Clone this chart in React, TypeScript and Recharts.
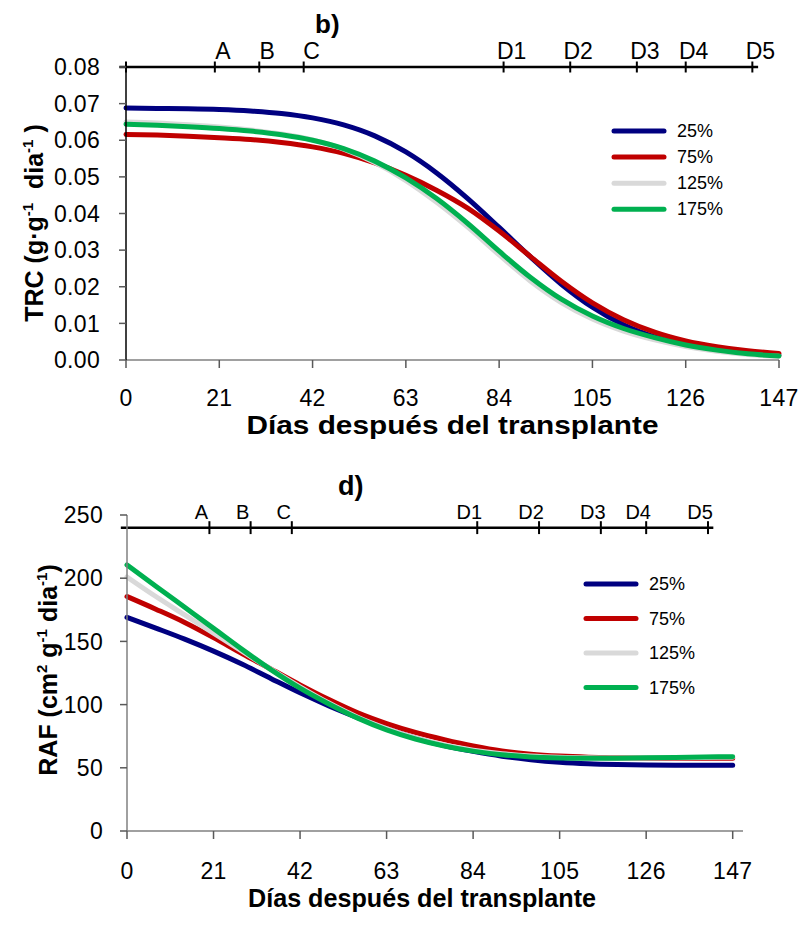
import React from "react";
import { LineChart, Line, XAxis, YAxis, ReferenceLine, Legend } from "recharts";

const FONT = "'Liberation Sans', Arial, Helvetica, sans-serif";

// days after transplant (sampled weekly)
const days = [0, 7, 14, 21, 28, 35, 42, 49, 56, 63, 70, 77, 84, 91, 98, 105, 112, 119, 126, 133, 140, 147];

// panel b) TRC (g·g-1 dia-1)
const trc25 = [0.0688, 0.0687, 0.0686, 0.0684, 0.068, 0.0673, 0.0661, 0.0642, 0.0612, 0.0568, 0.051, 0.044, 0.0362, 0.0282, 0.0207, 0.0144, 0.0096, 0.0063, 0.0041, 0.0027, 0.0018, 0.0013];
const trc75 = [0.0616, 0.0614, 0.0611, 0.0607, 0.0602, 0.0594, 0.0582, 0.0564, 0.0538, 0.0504, 0.0463, 0.0414, 0.0352, 0.0283, 0.0215, 0.0156, 0.011, 0.0076, 0.0052, 0.0036, 0.0025, 0.0018];
const trc125 = [0.065, 0.0647, 0.0642, 0.0636, 0.0628, 0.0617, 0.0601, 0.0576, 0.0539, 0.049, 0.043, 0.0362, 0.0287, 0.0216, 0.0157, 0.0112, 0.0079, 0.0055, 0.0037, 0.0024, 0.0015, 0.001];
const trc175 = [0.0644, 0.0641, 0.0637, 0.0632, 0.0625, 0.0615, 0.06, 0.0577, 0.0543, 0.0497, 0.044, 0.0372, 0.0297, 0.0226, 0.0166, 0.012, 0.0086, 0.0061, 0.0041, 0.0027, 0.0017, 0.0011];

// panel d) RAF (cm2 g-1 dia-1)
const raf25 = [169, 160.5, 151.8, 142.3, 131.9, 120.5, 109.3, 99, 89.7, 81, 73.5, 67.5, 63, 59.2, 56.4, 54.4, 53.2, 52.6, 52.3, 52.1, 52, 52];
const raf75 = [185.5, 175.5, 165, 153, 140.2, 128, 115.6, 104, 93.5, 85, 78, 72.3, 67.3, 63.3, 60.8, 59.3, 58.4, 57.9, 57.6, 57.5, 57.5, 57.5];
const raf125 = [201, 185.5, 171, 156.5, 142, 127.8, 114, 101.2, 90, 81, 73.6, 68, 64, 61.2, 59.4, 58.4, 57.9, 57.7, 57.8, 58, 58.2, 58.4];
const raf175 = [210.5, 193.7, 177, 160.3, 143.5, 127.5, 113, 100.5, 89.3, 80, 72.8, 67.3, 63.2, 60.3, 58.6, 57.8, 57.5, 57.6, 57.9, 58.2, 58.5, 58.8];

const seriesNames = ["25%", "75%", "125%", "175%"];
const seriesKeys = ["s25", "s75", "s125", "s175"];
const seriesColors = ["#000080", "#C00000", "#D9D9D9", "#00B050"];

const xTicks = [0, 21, 42, 63, 84, 105, 126, 147];
const trcTicks = [0, 0.01, 0.02, 0.03, 0.04, 0.05, 0.06, 0.07, 0.08];
const rafTicks = [0, 50, 100, 150, 200, 250];

// phenological stages marked on the upper axis
const stageDays = [20, 30, 40, 85, 100, 115, 126, 141];
const stageLabels = ["A", "B", "C", "D1", "D2", "D3", "D4", "D5"];
const stageSpan = [-1.5, 142.3];
const trcStageLevel = 0.08;
const rafStageLevel = 240;

const trcRows = days.map((d, i) => ({ day: d, s25: trc25[i], s75: trc75[i], s125: trc125[i], s175: trc175[i] }));
const rafRows = days.map((d, i) => ({ day: d, s25: raf25[i], s75: raf75[i], s125: raf125[i], s175: raf175[i] }));

const stageName = (v: number) => stageLabels[stageDays.indexOf(v)] ?? "";

const stageTick = (dx: number, dy: number, size: number) => (p: any) => (
  <text x={p.x + dx} y={p.y + dy} textAnchor="middle" fontSize={size} fontFamily={FONT} fill="#000">
    {stageName(p.payload.value)}
  </text>
);

// legend drawn in series order (recharts sorts the payload by name)
const legendContent = (gap: number) => () => (
  <svg width={150} height={gap * seriesNames.length + 10} style={{ overflow: "visible" }}>
    {seriesNames.map((name, i) => (
      <g key={name}>
        <line x1={3} x2={53} y1={6 + i * gap} y2={6 + i * gap} stroke={seriesColors[i]} strokeWidth={5} strokeLinecap="round" />
        <text x={66} y={12 + i * gap} fontSize={18} fontFamily={FONT} fill="#000">
          {name}
        </text>
      </g>
    ))}
  </svg>
);

function stageMarks(level: number, half: number, markDays: number[]) {
  const out = [
    <ReferenceLine
      key="stage-line"
      xAxisId="main"
      segment={[{ x: stageSpan[0], y: level }, { x: stageSpan[1], y: level }]}
      stroke="#000"
      strokeWidth={2.5}
      ifOverflow="visible"
    />,
  ];
  markDays.forEach((d) =>
    out.push(
      <ReferenceLine
        key={"stage-" + d}
        xAxisId="main"
        segment={[{ x: d, y: level - half }, { x: d, y: level + half }]}
        stroke="#000"
        strokeWidth={2}
        ifOverflow="visible"
      />
    )
  );
  return out;
}

function seriesLines() {
  return seriesKeys.map((k, i) => (
    <Line
      key={k}
      xAxisId="main"
      type="monotone"
      dataKey={k}
      name={seriesNames[i]}
      stroke={seriesColors[i]}
      strokeWidth={5}
      strokeLinecap="round"
      dot={false}
      activeDot={false}
      isAnimationActive={false}
    />
  ));
}

const tickText = { fill: "#000", fontSize: 23, fontFamily: FONT };

export default function App() {
  return (
    <div style={{ position: "absolute", left: 0, top: 0, width: 803, height: 926, background: "#fff", fontFamily: FONT }}>
      <style>{`.recharts-cartesian-axis-tick-value { letter-spacing: 0.3px; }`}</style>

      <div style={{ position: "absolute", left: 0, top: 0 }}>
        <LineChart width={803} height={440} data={trcRows} margin={{ top: 66, right: 24, bottom: 0, left: 0 }}>
          <XAxis
            xAxisId="main"
            dataKey="day"
            type="number"
            domain={[0, 147]}
            ticks={xTicks}
            interval={0}
            height={80}
            tickSize={8}
            tickMargin={22}
            axisLine={{ stroke: "#808080", strokeWidth: 1.5 }}
            tickLine={{ stroke: "#595959", strokeWidth: 1.5 }}
            tick={tickText}
          />
          <XAxis
            xAxisId="stage"
            orientation="top"
            dataKey="day"
            type="number"
            domain={[0, 147]}
            ticks={stageDays}
            interval={0}
            height={1}
            tickSize={0}
            tickMargin={0}
            axisLine={false}
            tickLine={false}
            tick={stageTick(8, -8, 23)}
          />
          <YAxis
            domain={[0, 0.08]}
            ticks={trcTicks}
            interval={0}
            width={126}
            tickSize={7}
            tickMargin={19}
            tickFormatter={(v: number) => v.toFixed(2)}
            axisLine={{ stroke: "#000", strokeWidth: 1.5 }}
            tickLine={{ stroke: "#595959", strokeWidth: 1.5 }}
            tick={tickText}
          />
          {stageMarks(trcStageLevel, 0.0015, [0, ...stageDays])}
          {seriesLines()}
          <Legend
            layout="horizontal"
            verticalAlign="middle"
            align="center"
            content={legendContent(26.1)}
            wrapperStyle={{ left: 611, top: 124.7, width: 160, height: 120 }}
          />
        </LineChart>
      </div>

      <div style={{ position: "absolute", left: 0, top: 440 }}>
        <LineChart width={803} height={486} data={rafRows} margin={{ top: 74, right: 60, bottom: 0, left: 0 }}>
          <XAxis
            xAxisId="main"
            dataKey="day"
            type="number"
            domain={[0, 149.5]}
            ticks={xTicks}
            interval={0}
            height={95}
            tickSize={8}
            tickMargin={24}
            axisLine={{ stroke: "#808080", strokeWidth: 1.5 }}
            tickLine={{ stroke: "#595959", strokeWidth: 1.5 }}
            tick={tickText}
          />
          <XAxis
            xAxisId="stage"
            orientation="top"
            dataKey="day"
            type="number"
            domain={[0, 149.5]}
            ticks={stageDays}
            interval={0}
            height={1}
            tickSize={0}
            tickMargin={0}
            axisLine={false}
            tickLine={false}
            tick={stageTick(-8, 4, 20)}
          />
          <YAxis
            domain={[0, 250]}
            ticks={rafTicks}
            interval={0}
            width={127}
            tickSize={7}
            tickMargin={17}
            axisLine={{ stroke: "#808080", strokeWidth: 1.5 }}
            tickLine={{ stroke: "#595959", strokeWidth: 1.5 }}
            tick={tickText}
          />
          {stageMarks(rafStageLevel, 5.1, stageDays)}
          {seriesLines()}
          <Legend
            layout="horizontal"
            verticalAlign="middle"
            align="center"
            content={legendContent(34.5)}
            wrapperStyle={{ left: 583, top: 138.3, width: 160, height: 150 }}
          />
        </LineChart>
      </div>

      <svg width={803} height={926} style={{ position: "absolute", left: 0, top: 0, pointerEvents: "none" }}>
        <g fontFamily={FONT} fontWeight="bold" fill="#000">
          <text x={315} y={33} fontSize={26}>b)</text>
          <text x={338} y={495} fontSize={27}>d)</text>
          <text x={452.5} y={434} fontSize={25} textAnchor="middle" textLength={412} lengthAdjust="spacingAndGlyphs">
            Días después del transplante
          </text>
          <text x={422} y={907} fontSize={25} textAnchor="middle" textLength={348} lengthAdjust="spacingAndGlyphs">
            Días después del transplante
          </text>
          <text transform="translate(43,223) rotate(-90)" fontSize={25} textAnchor="middle">
            TRC (g·g<tspan fontSize={15} dy={-10}>-1</tspan>
            <tspan dy={10}>{"\u00a0\u00a0dia"}</tspan>
            <tspan fontSize={15} dy={-10}>-1</tspan>
            <tspan dy={10}>{"\u00a0)"}</tspan>
          </text>
          <text transform="translate(57,670) rotate(-90)" fontSize={25} textAnchor="middle">
            RAF (cm<tspan fontSize={15} dy={-10}>2</tspan>
            <tspan dy={10}>{"\u00a0g"}</tspan>
            <tspan fontSize={15} dy={-10}>-1</tspan>
            <tspan dy={10}>{"\u00a0dia"}</tspan>
            <tspan fontSize={15} dy={-10}>-1</tspan>
            <tspan dy={10}>)</tspan>
          </text>
        </g>
      </svg>
    </div>
  );
}
